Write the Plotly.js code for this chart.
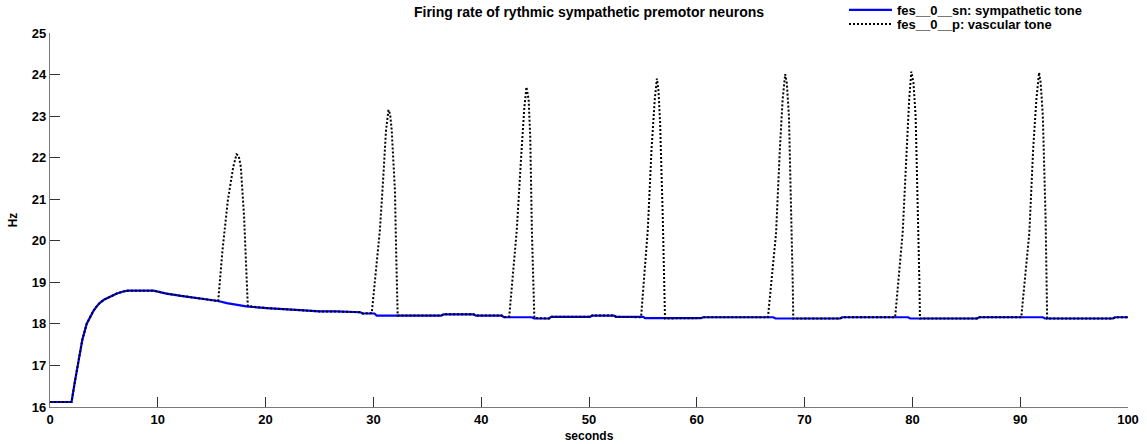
<!DOCTYPE html>
<html>
<head>
<meta charset="utf-8">
<script src="https://cdn.plot.ly/plotly-3.0.1.min.js"></script>
<style>
html,body{margin:0;padding:0;background:#fff;}
#chart{width:1147px;height:444px;}
</style>
</head>
<body>
<div id="chart"></div>
<script>
// ---- Data ----
const toneName = "fes__0__sn: sympathetic tone";
const vascName = "fes__0__p: vascular tone";

// Sympathetic tone (blue line): time (s) and firing rate (Hz)
const tone_t = [0, 2.0, 2.3, 2.8, 3.0, 3.4, 3.7, 4.0, 4.3, 4.6, 5.0, 5.6, 6.2, 6.8, 7.2, 9.6, 10.8, 12.3, 13.9, 15.6, 16.4, 18.2, 20.1, 21.5, 23.2, 25.0, 26.5,
  28.8, 29.0, 30.1, 30.3, 36.3, 36.5, 39.3, 39.5, 41.9, 42.1, 44.7, 44.9, 46.3, 46.5, 50.1, 50.3, 52.3, 52.5, 55.0, 55.2,
  60.4, 60.6, 67.1, 67.3, 73.3, 73.5, 79.6, 79.8, 86.0, 86.2, 92.1, 92.3, 98.6, 98.8, 100];
const tone_v = [16.12, 16.12, 16.6, 17.36, 17.62, 18.0, 18.17, 18.3, 18.41, 18.5, 18.58, 18.66, 18.73, 18.78, 18.8, 18.8, 18.73, 18.67, 18.61, 18.55, 18.5, 18.42, 18.38, 18.35, 18.33, 18.3, 18.3,
  18.28, 18.25, 18.25, 18.2, 18.2, 18.23, 18.23, 18.2, 18.2, 18.16, 18.16, 18.13, 18.13, 18.17, 18.17, 18.2, 18.2, 18.17, 18.17, 18.14,
  18.14, 18.16, 18.16, 18.13, 18.13, 18.16, 18.16, 18.13, 18.13, 18.16, 18.16, 18.13, 18.13, 18.16, 18.16];

// Vascular tone (dotted line): follows the tone except during the bursts below
const burst1_t = [15.6, 16.0, 16.5, 17.0, 17.3, 17.5, 17.7, 18.0, 18.25, 18.35];
const burst1_v = [18.55, 19.77, 20.98, 21.78, 22.08, 22.05, 21.78, 20.6, 19.2, 18.43];
const burst2_t = [29.85, 30.45, 30.6, 30.9, 31.17, 31.4, 31.55, 31.7, 32.0, 32.1, 32.25];
const burst2_v = [18.26, 19.85, 20.25, 21.46, 22.66, 23.15, 23.05, 22.66, 21.2, 19.85, 18.2];
const burst3_t = [42.6, 43.3, 43.7, 44.0, 44.2, 44.4, 44.55, 44.7, 44.93];
const burst3_v = [18.18, 20.25, 22.0, 23.2, 23.7, 23.4, 22.5, 20.25, 18.14];
const burst4_t = [54.83, 55.45, 55.8, 56.1, 56.3, 56.45, 56.6, 56.85, 57.05];
const burst4_v = [18.16, 20.25, 22.2, 23.4, 23.9, 23.6, 22.8, 20.5, 18.13];
const burst5_t = [66.6, 67.35, 67.7, 67.96, 68.2, 68.35, 68.55, 68.8, 68.9, 68.95];
const burst5_v = [18.16, 20.17, 22.18, 23.39, 24.01, 23.8, 22.98, 20.57, 18.97, 18.13];
const burst6_t = [78.4, 79.1, 79.45, 79.7, 79.9, 80.1, 80.3, 80.55, 80.65, 80.7];
const burst6_v = [18.16, 20.2, 22.2, 23.4, 24.07, 23.8, 23.0, 20.6, 19.0, 18.13];
const burst7_t = [90.1, 90.85, 91.2, 91.5, 91.75, 91.9, 92.1, 92.35, 92.45, 92.5];
const burst7_v = [18.16, 20.2, 22.2, 23.4, 24.05, 23.8, 23.0, 20.6, 19.0, 18.13];

// Axis ticks
const xTicks = [0, 10, 20, 30, 40, 50, 60, 70, 80, 90, 100];
const yTicks = [16, 17, 18, 19, 20, 21, 22, 23, 24, 25];

// ---- Build the vascular series from the tone + bursts ----
const bursts = [[burst1_t, burst1_v], [burst2_t, burst2_v], [burst3_t, burst3_v], [burst4_t, burst4_v],
                [burst5_t, burst5_v], [burst6_t, burst6_v], [burst7_t, burst7_v]];
let pts = [];
tone_t.forEach((t, i) => {
  const inside = bursts.some(b => t >= b[0][0] && t <= b[0][b[0].length - 1]);
  if (!inside) pts.push([t, tone_v[i]]);
});
bursts.forEach(b => b[0].forEach((t, i) => pts.push([t, b[1][i]])));
pts.sort((a, b) => a[0] - b[0]);
const vasc_t = pts.map(p => p[0]);
const vasc_v = pts.map(p => p[1]);

const FONT = "Liberation Sans, Arial, Helvetica, sans-serif";

const traces = [
  {x: tone_t, y: tone_v, type: 'scatter', mode: 'lines', name: toneName, legend: 'legend',
   line: {color: '#0000ff', width: 2.2}},
  {x: vasc_t, y: vasc_v, type: 'scatter', mode: 'lines', name: vascName, legend: 'legend2',
   line: {color: '#000000', width: 2, dash: '2px,2px'}}
];

const axisCommon = {
  showgrid: false, zeroline: false, showline: true,
  linecolor: '#7a7a7a', linewidth: 1.2,
  ticks: 'inside', ticklen: 10, tickwidth: 1, tickcolor: '#333',
  tickfont: {family: FONT, size: 13, color: '#000', weight: 'bold'},
  mirror: false, fixedrange: true, automargin: false
};

const legendCommon = {
  x: (844 - 50) / 1078, xref: 'paper', xanchor: 'left',
  yref: 'paper', yanchor: 'top',
  bgcolor: 'rgba(255,255,255,0)', borderwidth: 0,
  font: {family: FONT, size: 13, color: '#000', weight: 'bold'},
  itemwidth: 43, tracegroupgap: 0
};

const layout = {
  width: 1147, height: 444,
  margin: {l: 50, r: 19, t: 33, b: 37, pad: 0, autoexpand: false},
  paper_bgcolor: '#fff', plot_bgcolor: '#fff',
  showlegend: true,
  title: {text: 'Firing rate of rythmic sympathetic premotor neurons',
          font: {family: FONT, size: 14, color: '#000', weight: 'bold'},
          x: 0.5, xref: 'paper', xanchor: 'center', y: 1 - 12/444, yanchor: 'middle', yref: 'container'},
  xaxis: Object.assign({}, axisCommon, {
    range: [0, 100], tickvals: xTicks, ticktext: xTicks.map(String),
    title: {text: 'seconds', font: {family: FONT, size: 12, color: '#000', weight: 'bold'}, standoff: 5}
  }),
  yaxis: Object.assign({}, axisCommon, {
    range: [16, 25], tickvals: yTicks, ticktext: yTicks.map(String),
    title: {text: 'Hz', font: {family: FONT, size: 12, color: '#000', weight: 'bold'}, standoff: 11}
  }),
  legend: Object.assign({}, legendCommon, {y: 1 + (33 + 5) / 374}),
  legend2: Object.assign({}, legendCommon, {y: 1 + (33 - 9) / 374})
};

Plotly.newPlot('chart', traces, layout, {displayModeBar: false, staticPlot: true});
</script>
</body>
</html>
